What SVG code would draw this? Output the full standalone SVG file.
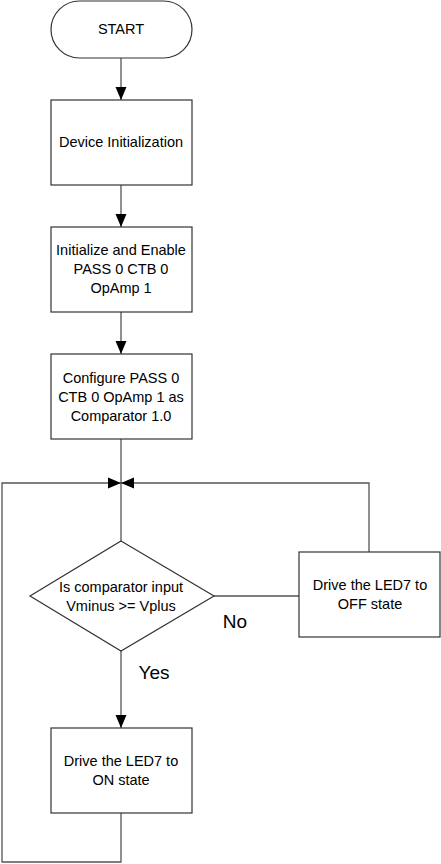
<svg xmlns="http://www.w3.org/2000/svg" width="441" height="864" viewBox="0 0 441 864">
<style>
.shape{fill:#fff;stroke:#333;stroke-width:1.2}
.conn{fill:none;stroke:#555;stroke-width:1.3}
text{font-family:"Liberation Sans",Arial,sans-serif;font-size:14.5px;fill:#000;text-anchor:middle}
.lbl{font-size:19px}
</style>
<defs>
<marker id="arr" markerUnits="userSpaceOnUse" markerWidth="14" markerHeight="12" refX="13" refY="6" orient="auto">
<path d="M0,0.5 L13,6 L0,11.5 z" fill="#000"/>
</marker>
</defs>
<rect width="441" height="864" fill="#fff"/>
<g id="connectors">
<path class="conn" d="M121,58 V100" marker-end="url(#arr)"/>
<path class="conn" d="M121,185 V227" marker-end="url(#arr)"/>
<path class="conn" d="M121,312 V354" marker-end="url(#arr)"/>
<path class="conn" d="M121,439 V541"/>
<path class="conn" d="M214,596 H299"/>
<path class="conn" d="M369,552 V483 H121" marker-end="url(#arr)"/>
<path class="conn" d="M121,651 V728" marker-end="url(#arr)"/>
<path class="conn" d="M121,813 V862 H2 V483 H121" marker-end="url(#arr)"/>
<text class="lbl" x="235" y="628">No</text>
<text class="lbl" x="154" y="679">Yes</text>
</g>
<g id="start">
<rect class="shape" x="51" y="1" width="141" height="57" rx="28.5" ry="28.5"/>
<text x="121" y="34">START</text>
</g>
<g id="device-init">
<rect class="shape" x="51" y="100" width="141" height="85"/>
<text x="121" y="147">Device Initialization</text>
</g>
<g id="init-enable">
<rect class="shape" x="51" y="227" width="141" height="85"/>
<text x="121" y="255">Initialize and Enable</text>
<text x="121" y="274">PASS 0 CTB 0</text>
<text x="121" y="293">OpAmp 1</text>
</g>
<g id="configure">
<rect class="shape" x="51" y="354" width="141" height="85"/>
<text x="121" y="383">Configure PASS 0</text>
<text x="121" y="402">CTB 0 OpAmp 1 as</text>
<text x="121" y="421">Comparator 1.0</text>
</g>
<g id="decision">
<polygon class="shape" points="121,541 214,596 121,651 30,596"/>
<text x="121" y="592">Is comparator input</text>
<text x="121" y="611">Vminus &gt;= Vplus</text>
</g>
<g id="led-off">
<rect class="shape" x="299" y="552" width="141" height="85"/>
<text x="370" y="590">Drive the LED7 to</text>
<text x="370" y="609">OFF state</text>
</g>
<g id="led-on">
<rect class="shape" x="51" y="728" width="141" height="85"/>
<text x="121" y="766">Drive the LED7 to</text>
<text x="121" y="785">ON state</text>
</g>
</svg>
